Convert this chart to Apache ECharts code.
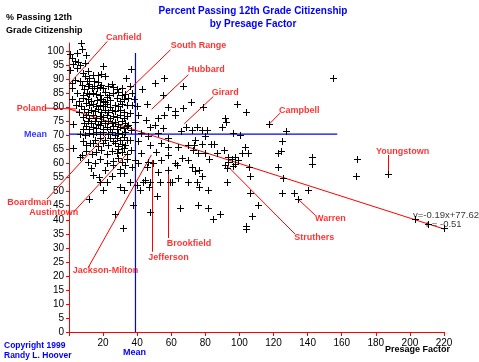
<!DOCTYPE html>
<html><head><meta charset="utf-8">
<script src="https://cdn.jsdelivr.net/npm/echarts@6/dist/echarts.min.js"></script>
<style>html,body{margin:0;padding:0;background:#fff}#c{width:479px;height:362px}</style>
</head><body><div id="c"></div>
<script>
const xTicks = [20,40,60,80,100,120,140,160,180,200,220];
const yTicks = [0,5,10,15,20,25,30,35,40,45,50,55,60,65,70,75,80,85,90,95,100];

// districts: [Presage Factor, % passing 12th grade citizenship]
const points = [
[7,103],[7.4,100.9],[4.9,99.4],[10,98.8],[0.6,99.2],[1.6,97.6],[3.5,96.7],[5.5,96.4],[2.5,95.5],[6.5,95.2],[9.4,95.9],[19.8,94.9],
[4.5,94.1],[0.6,93.5],[36.2,93.7],[11,93],
[8.4,92.3],[9.4,91.3],[14.3,91.7],[17.2,91.7],[21.1,91.1],[11.9,90.5],[33.3,90.5],[55.9,90.5],[19,92],[154.8,90.6],
[3.5,89.9],[6.5,89.3],[10.4,89.3],[14.8,89.3],[17.2,89],[50.4,88.7],[12,88.5],[19,88.2],[25,88.5],[2,88.8],
[1.6,86.9],[7.4,87.9],[11,87.5],[13.3,86.9],[16.2,86.9],[20.1,86.9],[23,87.8],[28,86.6],[30.9,86.9],[35.8,87.8],[42.6,86.6],[66.7,87.8],[9,86.5],[14.5,87.6],[18,87.2],[26,87.3],
[4.5,85.2],[10.4,85.2],[14.3,85.2],[21.1,85.7],[26,85.2],[36.8,85.2],[55.3,84.5],[8,84.5],[12,84.8],[16,85],[18,84.3],[23.5,84.6],[29,85.5],[31,84.5],[33,85],
[1.6,83],[8.4,83.4],[11.3,83],[16.2,82.8],[22.1,83.7],[28,83.4],[34.8,83.4],[38.3,83],[6,82.5],[13,82.3],[18.5,83],[20,82.2],[24,82.6],[30,82.5],[32,83.2],[71.4,82.1],
[4,81],[7,80.5],[10,81.5],[12,80.8],[14,81.2],[16,80.4],[18,81],[20,80.6],[22,81.4],[24,80.3],[27,81],[29,80.5],[31,81.3],[34,80.8],[37,81],[40,80.5],[21,81.8],[45.6,81.3],[58.2,80.1],[62.2,78.6],[66.7,79.8],
[6,78.5],[9,79.3],[11,78.4],[13,79],[15,78.6],[17,79.4],[19,78.5],[21,79],[23,78.3],[25,79.2],[27,78.7],[30,79.1],[32,78.4],
[8,76.5],[10,77.3],[12,76.4],[14,77.2],[16,76.3],[18,77],[20,76.6],[22,77.5],[24,76.4],[26,77.1],[28,76.5],[30,77.3],[32,76.2],[34,77],
[2.5,74.2],[9,74.5],[11,75.3],[13,74.4],[15,75.1],[17,74.3],[19,75.3],[21,74.6],[23,75.2],[25,74.4],[27,75],[29,74.3],[31,75.2],[33,74.5],
[8,72.5],[10,73.5],[12,72.4],[14,73.2],[16,72.6],[18,73.6],[20,72.3],[22,73],[24,72.5],[26,73.4],[28,72.2],[30,73],[32,72.6],[34,73.3],
[6.5,70.6],[9.4,70.3],[12,71],[14,70.5],[16,71.3],[18,70.4],[20,71.2],[23,70.6],[25,71.4],[27,70.3],[29,71],[31,70.5],[33,71.2],
[8.4,67.9],[12.3,67.3],[15,68.6],[18,69.3],[21,68.4],[24,69.2],[26,68.2],[28,69],[30,68.5],[32,69.4],[34,68.3],
[2.5,65.5],[10,66.5],[14,67.4],[17,66.4],[20,67.2],[23,66.6],[27,67.5],[29,66.3],[31,67.1],[33,66.5],
[7.4,63.1],[13.3,63.5],[6.5,62.5],[10,64.5],[16,64],[19,65],[22,63.6],[25,64.6],[28,63.8],[29,65.2],[31,64.2],[32,65.5],[34,63.5],
[15.2,60.1],[22.1,60.1],[26,61],[29,62],[31,60.5],[34,61.5],[11,60.7],[18,61.6],
[26,59.5],[21.1,57.8],[13,58.6],[30,58.2],[33,59.4],
[29.9,56.6],[32.4,56.6],[17.8,55.4],[14,56],[25,55.5],
[35.6,78],[40.5,77.4],[38.5,75],[45.3,75.6],[47.3,73.2],[50.3,73.8],[55.1,72.6],[62,77.4],[36.5,72],[42.4,71.1],[46.3,69.9],[52.2,70.9],[58.1,69.1],[65.9,71.8],
[35.6,68.5],[40.5,67.9],[47.3,66.7],[54.1,67.3],[63.9,66.1],[69.8,66.7],[36.5,64.9],[42.4,63.7],[51.2,64.3],[58.1,63.1],[38.5,61.3],[46.3,60.7],[54.1,61.3],[62,60.1],[69.8,61.3],
[52.2,57.1],[58.1,57.8],[63.9,54.8],[35.6,53.6],[44.4,54.2],[53.2,53.6],[59.1,53.6],[34.6,73.8],
[55.7,77.4],[52.4,76.2],[68.6,73.2],[58.2,66.1],[66.1,61.9],[63.2,59.5],[49.1,60.1],[45.6,58.9],[36.8,58.9],[40.6,60.1],
[11.8,47.3],[20,50.6],[18.2,53.6],[22.3,53.6],[27,42],[29.9,51.8],[32.3,50.6],[31.5,36.9],[37.4,45.2],[39.7,52.4],[41.6,50.6],[47.5,42.9],[47.1,51.8],[43.4,53.6],[47.5,53.6],[51.8,48.5],[60.2,53.6],[65.1,44.1],[70,53.6],
[78.6,80.2],[98.5,81.3],[103.8,78.4],[91.5,76.3],[92,74.9],[89.7,73.1],[75,73.1],[78,72],[80.9,72],[72,72],[117.3,74.2],[127.3,71.8],[96.2,71],[100.3,70.3],[79.8,70],
[73.9,68.5],[73.3,66.7],[78,67],[83.3,67],[85,67],[124.8,68.1],[103.2,65.8],[72.7,64.9],[75.7,63.9],[79.8,63.9],[86.8,63.9],[90.9,64.9],[101.5,63.7],[105,63.7],[122.6,63.8],[124.3,64.6],
[93.3,62.5],[97.4,62.5],[95.6,61.6],[99.1,61.3],[82.1,61.6],[93.3,60.7],[91.5,59.5],[97.4,59.9],[92.7,58.6],[96.2,59.2],[105.6,58.9],[122.6,58.8],[72,58.9],[73.9,57.5],[76.2,57.8],
[106.2,55.6],[125.5,54.9],[78,55.6],[75,53.6],[92.7,53.6],[76.2,51.6],[81.5,50.6],[106.2,49.4],[125,49.5],[132,49.5],[140.3,50.6],[134.3,47.4],[75.7,45.2],[81.5,44.3],[111,45.2],[107.3,41.3],[103.7,37.9],[103.7,36.8],[84.6,40.1],[88.6,42],
[142.6,62.5],[142.6,59.8],[169,61.6],[168.4,55.5],[187,56.4],[203,40.2],[210.6,38.4],[220,37]
];

const meanX = 39, meanY = 70.5;
const meanXLineEnd = 157.4, meanYLineTop = 99.4;
const regression = [[0,79.5],[220,36.7]];

const labelNames = ['Canfield','South Range','Hubbard','Girard','Campbell','Youngstown','Poland','Boardman','Austintown','Jackson-Milton','Jefferson','Brookfield','Warren','Struthers'];
const labelAt = [[21.7,105.1],[59.6,102],[69.6,93.5],[83.7,85.25],[123.2,78.8],[180.1,64.5],[-30.7,79.6],[-36.2,46.3],[-23.3,42.75],[2.2,21.9],[46.5,26.6],[57.3,31.6],[144.3,40.3],[132.1,33.5]];
const leaders = [
[[22.5,103.6],[0.6,88.7]],
[[59.6,100.6],[30.9,83.7]],
[[70,91.7],[48.5,79.4]],
[[84.6,83.9],[67.6,74.2]],
[[123.8,78],[117.5,74.1]],
[[187.3,63.1],[187.3,56.6]],
[[-14.1,79.8],[4.1,79.5]],
[[-12.9,47.4],[22.7,70.9]],
[[2.9,42.9],[34.4,63.7]],
[[11.3,23],[48.3,63.1]],
[[48.9,28.6],[48.9,61.3]],
[[58.2,33.5],[58.2,58.9]],
[[144.3,41.7],[134.5,47.3]],
[[132.6,34.9],[92.4,59.5]]
];
const equationText = ['y=-0.19x+77.62','r = -0.51'];
const equationAt = [[201.8,41.5],[209.4,38.3]];

const RED = '#ff0000', BLUE = '#0000ff';
const FONT = 'Liberation Sans';

const chart = echarts.init(document.getElementById('c'), null, {renderer:'canvas'});
chart.setOption({
  animation: false,
  backgroundColor: '#fff',
  grid: {left: 69, right: 35, top: 43, bottom: 30},
  xAxis: {
    type: 'value', min: 0, max: 220, interval: 20,
    axisLine: {lineStyle: {color: RED, width: 1}},
    axisTick: {show: true, length: 4, lineStyle: {color: RED}},
    axisLabel: {color: '#000', fontSize: 10, fontFamily: FONT, margin: 6,
      formatter: v => (v === 0 ? '' : String(v))},
    splitLine: {show: false}
  },
  yAxis: {
    type: 'value', min: 0, max: 103,
    axisLine: {show: true, lineStyle: {color: RED, width: 1}},
    axisTick: {show: true, length: 3, lineStyle: {color: RED}, customValues: yTicks},
    axisLabel: {color: '#000', fontSize: 10, fontFamily: FONT, margin: 5, customValues: yTicks,
      formatter: v => (v % 5 === 0 ? String(v) : '')},
    splitLine: {show: false}
  },
  series: [
    {
      type: 'custom', name: 'districts', data: points, encode: {x: 0, y: 1}, silent: true, z: 5,
      renderItem: function (params, api) {
        const p = api.coord([api.value(0), api.value(1)]);
        const X = Math.round(p[0]), Y = Math.round(p[1]);
        return {type: 'group', children: [
          {type: 'rect', shape: {x: X - 3, y: Y, width: 7, height: 1}, style: {fill: '#000'}},
          {type: 'rect', shape: {x: X, y: Y - 3, width: 1, height: 7}, style: {fill: '#000'}}
        ]};
      }
    },
    {type: 'line', data: [[0, meanY], [meanXLineEnd, meanY]], symbol: 'none', silent: true, z: 3,
      lineStyle: {color: BLUE, width: 1.2}},
    {type: 'line', data: [[meanX, 0], [meanX, meanYLineTop]], symbol: 'none', silent: true, z: 3,
      lineStyle: {color: BLUE, width: 1.2}},
    {type: 'line', data: regression, symbol: 'none', silent: true, z: 4,
      lineStyle: {color: RED, width: 1}},
    {type: 'lines', coordinateSystem: 'cartesian2d', clip: false, silent: true, z: 4,
      data: leaders.map(l => ({coords: l})),
      lineStyle: {color: RED, width: 1, opacity: 1, curveness: 0}},
    {type: 'scatter', clip: false, silent: true, z: 6, symbol: 'circle', symbolSize: 0.1,
      itemStyle: {color: 'rgba(0,0,0,0)'},
      data: labelNames.map((n, i) => ({name: n, value: labelAt[i]}))
        .concat([{name: 'Mean', value: [-26.4, meanY], label: {color: BLUE}}])
        .concat(equationText.map((t, i) => ({name: t, value: equationAt[i],
          label: {color: '#000', fontWeight: 'normal', fontSize: 9.5}}))),
      label: {show: true, position: 'right', distance: 0, formatter: '{b}', color: RED,
        fontSize: 9, fontWeight: 'bold', fontFamily: FONT}
    }
  ],
  graphic: [
    {type: 'text', x: 253, y: 11, style: {text: 'Percent Passing 12th Grade Citizenship', fill: BLUE,
      font: 'bold 10px "Liberation Sans"', textAlign: 'center', textVerticalAlign: 'middle'}},
    {type: 'text', x: 253, y: 24.5, style: {text: 'by Presage Factor', fill: BLUE,
      font: 'bold 10px "Liberation Sans"', textAlign: 'center', textVerticalAlign: 'middle'}},
    {type: 'text', x: 6, y: 18, style: {text: '% Passing 12th', fill: '#000',
      font: 'bold 9px "Liberation Sans"', textVerticalAlign: 'middle'}},
    {type: 'text', x: 6, y: 31, style: {text: 'Grade Citizenship', fill: '#000',
      font: 'bold 9px "Liberation Sans"', textVerticalAlign: 'middle'}},
    {type: 'text', x: 385, y: 350, style: {text: 'Presage Factor', fill: '#000',
      font: 'bold 9px "Liberation Sans"', textVerticalAlign: 'middle'}},
    {type: 'text', x: 134.5, y: 353, style: {text: 'Mean', fill: BLUE,
      font: 'bold 9px "Liberation Sans"', textAlign: 'center', textVerticalAlign: 'middle'}},
    {type: 'text', x: 4, y: 345.5, style: {text: 'Copyright 1999', fill: BLUE,
      font: 'bold 8.5px "Liberation Sans"', textVerticalAlign: 'middle'}},
    {type: 'text', x: 4, y: 356, style: {text: 'Randy L. Hoover', fill: BLUE,
      font: 'bold 8.5px "Liberation Sans"', textVerticalAlign: 'middle'}}
  ]
});
</script></body></html>
